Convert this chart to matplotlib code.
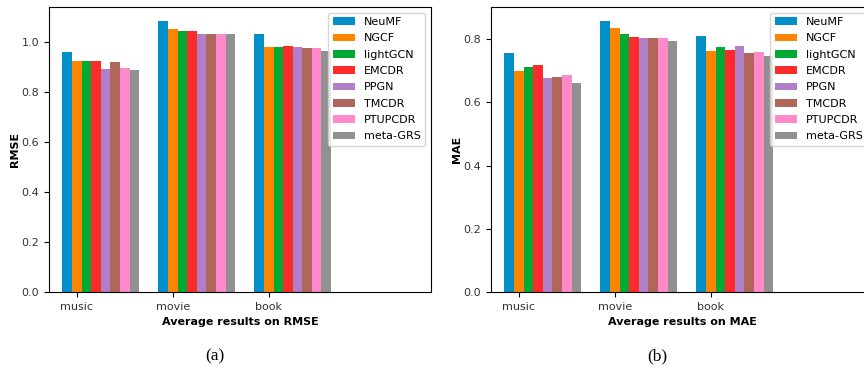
import matplotlib
matplotlib.use("Agg")
import matplotlib.pyplot as plt
import numpy as np

domains = ["music", "movie", "book"]
methods = ["NeuMF", "NGCF", "lightGCN", "EMCDR", "PPGN", "TMCDR", "PTUPCDR", "meta-GRS"]
colors = ["#008fc7", "#ff8500", "#00aa35", "#ff2a2a", "#b07fc8", "#b0665a", "#ff8acb", "#919191"]

# rows = methods, cols = domains (music, movie, book)
rmse = [
    [0.959, 1.085, 1.031],
    [0.923, 1.051, 0.980],
    [0.925, 1.043, 0.980],
    [0.925, 1.045, 0.984],
    [0.892, 1.033, 0.980],
    [0.920, 1.031, 0.977],
    [0.895, 1.033, 0.976],
    [0.888, 1.031, 0.965],
]
mae = [
    [0.757, 0.859, 0.810],
    [0.699, 0.835, 0.764],
    [0.712, 0.818, 0.776],
    [0.718, 0.807, 0.766],
    [0.677, 0.805, 0.779],
    [0.679, 0.805, 0.757],
    [0.686, 0.805, 0.760],
    [0.662, 0.796, 0.746],
]

plt.rcParams.update({"font.family": "DejaVu Sans", "font.size": 8})
fig = plt.figure(figsize=(8.64, 3.71), dpi=100)
fig.patch.set_facecolor("white")

axL = fig.add_axes([0.0567, 0.213, 0.442, 0.768])
axR = fig.add_axes([0.5683, 0.213, 0.442, 0.768])

x = np.arange(len(domains))
w = 0.1


def draw(ax, vals, ylabel, xlabel):
    for i, (name, col) in enumerate(zip(methods, colors)):
        ax.bar(x + (i - 1) * w, vals[i], w, color=col, label=name)
    ax.set_xticks(x)
    ax.set_xticklabels(domains, fontsize=8)
    ax.tick_params(axis="both", labelsize=8, labelcolor="#333333")
    ax.set_xlim(-0.29, 3.69)
    ax.set_ylabel(ylabel, fontsize=8, fontweight="bold", labelpad=1)
    ax.set_xlabel(xlabel, fontsize=8, fontweight="bold")
    ax.legend(loc="upper right", fontsize=8, labelspacing=0.57)


draw(axL, rmse, "RMSE", "Average results on RMSE")
draw(axR, mae, "MAE", "Average results on MAE")

fig.text(0.249, 0.04, "(a)", fontsize=12.5, family="Liberation Serif", ha="center", va="center")
fig.text(0.761, 0.04, "(b)", fontsize=12.5, family="Liberation Serif", ha="center", va="center")

fig.savefig("out.png", dpi=100, facecolor="white")
